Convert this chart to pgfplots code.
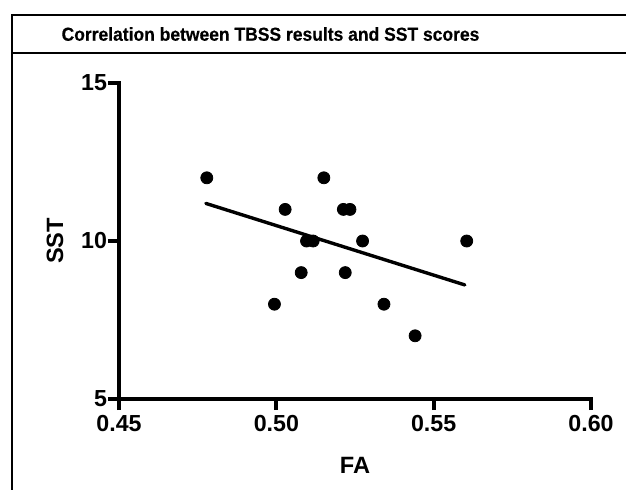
\documentclass[border=0pt]{standalone}
\usepackage{fontspec}
\setmainfont{Liberation Sans}
\newfontfamily\titlefont[FakeStretch=0.93, FakeBold=0.4]{Liberation Sans}
\usepackage{pgfplots}
\pgfplotsset{compat=1.18}

% 1 px of the reference = 0.5pt
\begin{document}
\begin{tikzpicture}[x=0.5pt,y=0.5pt]
\useasboundingbox (0,0) rectangle (626,489);
% outer frame and title bar
\draw[line width=1pt] (12,-5) -- (12,474) -- (640,474);
\draw[line width=1pt] (12,436) -- (640,436);
\node[font=\titlefont\bfseries\fontsize{9.4}{11}\selectfont] at (270.5,455) {Correlation between TBSS results and SST scores};

\begin{axis}[
    at={(59.5pt,45pt)}, anchor=south west,
    scale only axis,
    width=236pt, height=158pt,
    xmin=0.45, xmax=0.60, ymin=5, ymax=15,
    axis lines=left,
    axis line style={-, line width=2pt, line cap=rect},
    tick style={line width=2pt, black},
    major tick length=5.5pt,
    tick align=outside,
    xtick={0.45,0.50,0.55,0.60},
    ytick={5,10,15},
    minor tick num=0,
    xticklabel style={/pgf/number format/.cd, fixed, fixed zerofill, precision=2, /tikz/.cd},
    /pgf/number format/assume math mode=true,
    ticklabel style={font=\bfseries\fontsize{11.6}{13}\selectfont},
    xticklabel style={yshift=1pt},
    yticklabel style={xshift=3pt},
    xlabel={FA}, ylabel={SST},
    label style={font=\bfseries\fontsize{11.8}{13}\selectfont},
    xlabel style={at={(axis description cs:0.5,-0.209)}, anchor=center},
    ylabel style={at={(axis description cs:-0.1356,0.5)}, anchor=center, rotate=0},
    clip=false,
]
% data points
\addplot[only marks, mark=*, mark size=3pt, black] coordinates {
(0.4779,12) (0.5151,12)
(0.5028,11) (0.5213,11) (0.5234,11)
(0.5096,10) (0.5117,10) (0.5274,10) (0.5605,10)
(0.5079,9) (0.5219,9)
(0.4994,8) (0.5342,8)
(0.5441,7)
};
% regression line
\addplot[black, line width=1.7pt, line cap=round] coordinates {(0.4776,11.19) (0.5599,8.61)};
\end{axis}
\end{tikzpicture}
\end{document}
